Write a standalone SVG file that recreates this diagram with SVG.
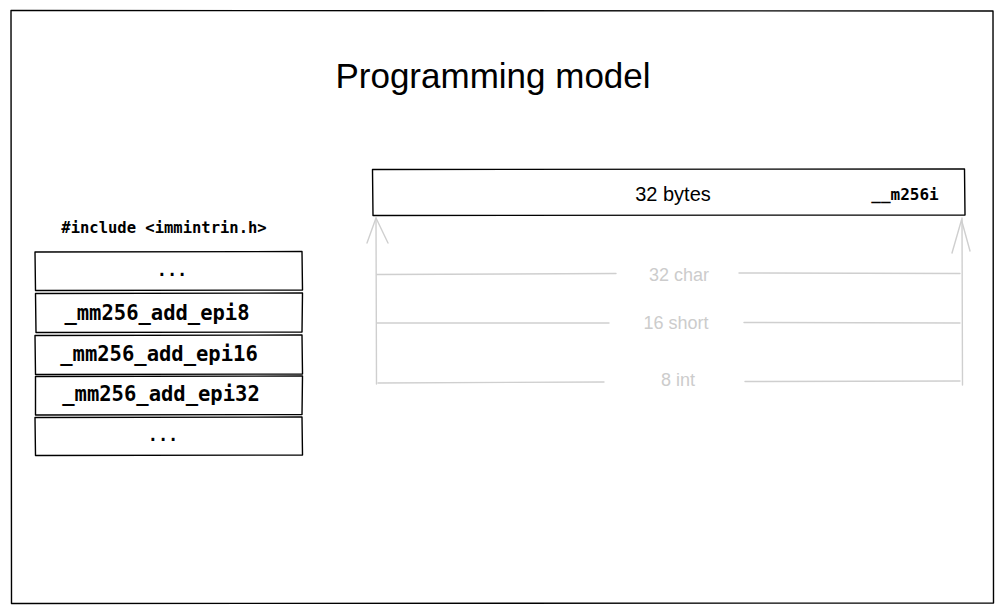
<svg xmlns="http://www.w3.org/2000/svg" width="1004" height="613" viewBox="0 0 1004 613">
  <style>
    .sk { fill: none; stroke: #000; stroke-width: 1.4; stroke-linecap: round; stroke-linejoin: round; }
    .box { fill: #fff; stroke: #000; stroke-width: 1.4; stroke-linejoin: round; }
    .gr { fill: none; stroke: #cfcfcf; stroke-width: 1.4; stroke-linecap: round; stroke-linejoin: round; }
    .hand { font-family: "Liberation Sans", "DejaVu Sans", sans-serif; }
    .mono { font-family: "DejaVu Sans Mono", "Liberation Mono", monospace; }
    .title { font-size: 35px; fill: #000; }
    .lbl { font-size: 20px; fill: #000; }
    .glbl { font-size: 18px; fill: #cccccc; }
    .fn { font-size: 20.5px; font-weight: bold; fill: #000; }
    .dots { font-size: 17px; font-weight: bold; fill: #000; }
    .inc { font-size: 15.5px; font-weight: bold; fill: #000; }
    .typ { font-size: 16px; fill: #000; }
  </style>
  <rect x="0" y="0" width="1004" height="613" fill="#fff"/>

  <g id="frame">
    <path class="sk" d="M11 10.5 L993 11 L993.5 603 L11.5 603.5 Z" stroke-width="1.6"/>
  </g>

  <g id="title">
    <text class="hand title" x="493" y="88" text-anchor="middle">Programming model</text>
  </g>

  <g id="register">
    <path class="box" d="M372.5 169.5 L964.5 169 L965 215 L373 215.5 Z" stroke-width="1.8"/>
    <text class="hand lbl" x="673" y="201" text-anchor="middle">32 bytes</text>
    <text class="mono typ" x="905" y="200" text-anchor="middle" font-weight="600">__m256i</text>
  </g>

  <g id="connectors">
    <path class="gr" d="M376.5 384 L376 218"/>
    <path class="gr" d="M367 243 L376 218 L388 243"/>
    <path class="gr" d="M962.5 385 L962 218"/>
    <path class="gr" d="M952 253 L961.5 220 L970 251"/>

    <path class="gr" d="M377 274.5 L616 273.5"/>
    <path class="gr" d="M739 273 L960 273.5"/>
    <path class="gr" d="M377 323 L609 323"/>
    <path class="gr" d="M744 322.5 L960 323"/>
    <path class="gr" d="M378 383 L604 382"/>
    <path class="gr" d="M745 381.5 L960 381"/>
  </g>

  <g id="lane-char">
    <text class="hand glbl" x="679" y="281" text-anchor="middle">32 char</text>
  </g>
  <g id="lane-short">
    <text class="hand glbl" x="676" y="329" text-anchor="middle">16 short</text>
  </g>
  <g id="lane-int">
    <text class="hand glbl" x="678" y="386" text-anchor="middle">8 int</text>
  </g>

  <g id="header">
    <text class="mono inc" x="164" y="233" text-anchor="middle">#include &lt;immintrin.h&gt;</text>
  </g>

  <g id="fn-top">
    <path class="box" d="M35 252 L302 251.5 L302.5 290 L35.5 290.5 Z"/>
    <text class="mono dots" x="172" y="276" text-anchor="middle">...</text>
  </g>
  <g id="fn-epi8">
    <path class="box" d="M35.5 293.5 L302.5 293 L302 332 L36 332.5 Z"/>
    <text class="mono fn" x="157" y="320" text-anchor="middle">_mm256_add_epi8</text>
  </g>
  <g id="fn-epi16">
    <path class="box" d="M35 335.5 L302 335 L302.5 374 L35.5 374.5 Z"/>
    <text class="mono fn" x="159" y="361" text-anchor="middle">_mm256_add_epi16</text>
  </g>
  <g id="fn-epi32">
    <path class="box" d="M35.5 376.5 L302.5 376 L302 414.5 L35.5 415 Z"/>
    <text class="mono fn" x="161" y="401" text-anchor="middle">_mm256_add_epi32</text>
  </g>
  <g id="fn-bottom">
    <path class="box" d="M35 417.5 L302 417 L302.5 455 L35.5 455.5 Z"/>
    <text class="mono dots" x="163" y="441" text-anchor="middle">...</text>
  </g>
</svg>
